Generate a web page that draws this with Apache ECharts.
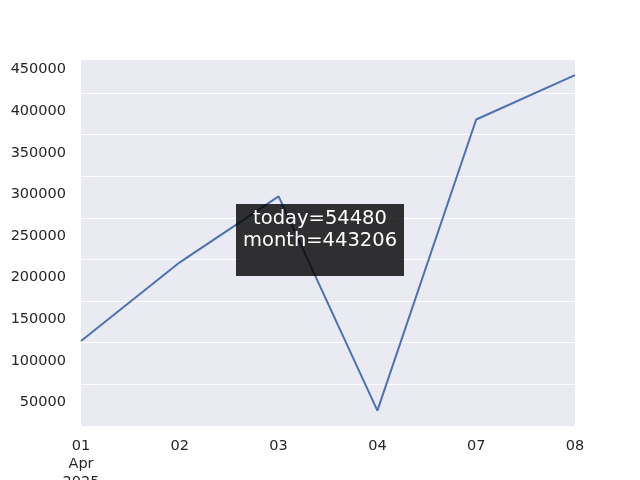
<!DOCTYPE html>
<html><head><meta charset="utf-8">
<script src="https://cdn.jsdelivr.net/npm/echarts@6/dist/echarts.min.js"></script>
<style>html,body{margin:0;padding:0;background:#fff}#c{width:640px;height:480px}</style>
</head><body><div id="c"></div>
<script>
var categories = ["01\nApr\n2025", "02", "03", "04", "07", "08"];
var values = [124000, 218500, 297700, 40500, 390000, 443206];
var yTicks = [50000, 100000, 150000, 200000, 250000, 300000, 350000, 400000, 450000];
var annotationLines = ["today=54480", "month=443206"];

var chart = echarts.init(document.getElementById('c'), null, {renderer: 'canvas'});
var font = 'DejaVu Sans';
chart.setOption({
  animation: false,
  backgroundColor: '#ffffff',
  grid: {left: 81, right: 65, top: 59, bottom: 54, show: true, backgroundColor: '#eaeaf2', borderWidth: 0,
         containLabel: false, outerBoundsMode: 'none'},
  xAxis: {
    type: 'category', data: categories, boundaryGap: false,
    axisLine: {show: false}, axisTick: {show: false},
    splitLine: {show: false},
    axisLabel: {color: '#262626', fontFamily: font, fontSize: 14.5, margin: 11, lineHeight: 18, interval: 0}
  },
  yAxis: {
    type: 'value', min: 22000, max: 462600, interval: 50000,
    axisLine: {show: false}, axisTick: {show: false},
    splitLine: {show: true, lineStyle: {color: '#ffffff', width: 1}},
    axisLabel: {color: '#262626', fontFamily: font, fontSize: 14.5, margin: 15,
      customValues: yTicks, formatter: function(v){return String(v);}}
  },
  series: [{
    type: 'line', data: values, symbol: 'none', z: 2,
    lineStyle: {color: '#4c72b0', width: 2}
  }],
  graphic: [{
    type: 'group', left: 236, top: 204, z: 100, zlevel: 1,
    children: [
      {type: 'rect', z: 100, shape: {x: 0, y: 0, width: 168, height: 72}, style: {fill: 'rgba(0,0,0,0.8)'}},
      {type: 'text', z: 101, x: 84, y: 4, style: {text: annotationLines.join('\n'), fill: '#ffffff', font: '19.5px "DejaVu Sans"', align: 'center', lineHeight: 22}}
    ]
  }]
});
</script></body></html>
